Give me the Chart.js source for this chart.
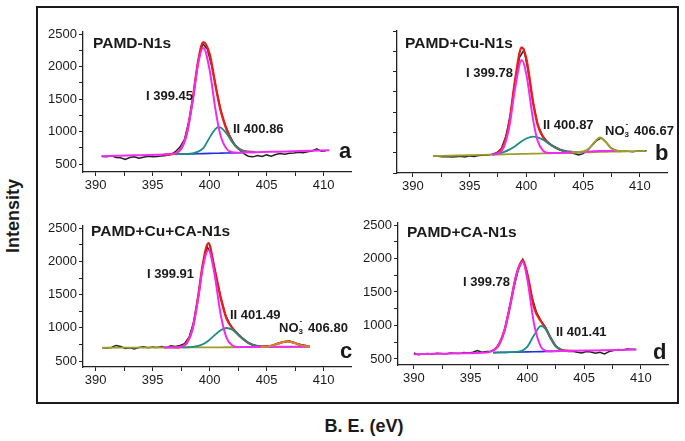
<!DOCTYPE html>
<html>
<head>
<meta charset="utf-8">
<script src="https://cdn.jsdelivr.net/npm/chart.js"></script>
<style>
  body { margin:0; width:685px; height:441px; background:#fff; position:relative; overflow:hidden;
         font-family:"Liberation Sans", Arial, sans-serif; color:#1a1a1a; }
  .frame { position:absolute; left:36px; top:6px; width:643px; height:398px; border:2px solid #1a1a1a; box-sizing:border-box; }
  canvas { position:absolute; }
  .t { position:absolute; font-weight:bold; white-space:nowrap; line-height:1; }
  .ttl { font-size:15.5px; }
  .pk { font-size:13px; }
  .let { font-size:22px; }
  .ax { font-size:18px; transform:translate(-50%,-50%); }
  .ion { display:inline-block; position:relative; width:6px; height:13px; vertical-align:top; }
  .ion span { position:absolute; font-size:8px; line-height:1; }
  .ion .sp { left:1px; top:-4px; }
  .ion .sb { left:0; top:7px; }
</style>
</head>
<body>
<div class="frame"></div>
<canvas id="ca"></canvas>
<canvas id="cb"></canvas>
<canvas id="cc"></canvas>
<canvas id="cd"></canvas>

<div class="t ttl" style="left:93px;top:34.5px">PAMD-N1s</div>
<div class="t pk" style="left:146px;top:88.5px">I 399.45</div>
<div class="t pk" style="left:233px;top:121.8px">II 400.86</div>
<div class="t let" style="left:339px;top:139.7px">a</div>

<div class="t ttl" style="left:405px;top:35px">PAMD+Cu-N1s</div>
<div class="t pk" style="left:466px;top:66.2px">I 399.78</div>
<div class="t pk" style="left:543px;top:117.5px">II 400.87</div>
<div class="t pk" style="left:605px;top:124.2px">NO<span class="ion"><span class="sp">-</span><span class="sb">3</span></span> 406.67</div>
<div class="t let" style="left:655px;top:142.1px">b</div>

<div class="t ttl" style="left:91px;top:223px">PAMD+Cu+CA-N1s</div>
<div class="t pk" style="left:147px;top:266.8px">I 399.91</div>
<div class="t pk" style="left:230px;top:307.8px">II 401.49</div>
<div class="t pk" style="left:279px;top:320.8px">NO<span class="ion"><span class="sp">-</span><span class="sb">3</span></span> 406.80</div>
<div class="t let" style="left:340px;top:340.1px">c</div>

<div class="t ttl" style="left:407px;top:224px">PAMD+CA-N1s</div>
<div class="t pk" style="left:463px;top:274.5px">I 399.78</div>
<div class="t pk" style="left:556px;top:325.2px">II 401.41</div>
<div class="t let" style="left:653px;top:341.4px">d</div>

<div class="t ax" style="left:13px;top:216px;transform:translate(-50%,-50%) rotate(-90deg)">Intensity</div>
<div class="t ax" style="left:364px;top:426px">B. E. (eV)</div>

<script>
// raw spectra are sampled every 0.4 eV from their start value
const rawStep = 0.4;

// a: PAMD-N1s
const aGrid  = [390.5, 392, 394, 396, 397, 397.5, 398, 398.5, 399, 399.45, 400, 400.5, 400.8, 401, 401.5, 402, 402.5, 403, 404, 406, 408, 410.5];
const aPeak1 = [620, 627, 636, 645, 664, 735, 970, 1461, 2050, 2290, 1950, 1355, 1059, 916, 731, 682, 675, 676, 681, 690, 699, 710];
const aPeak2 = [null, null, null, null, 649, 652, 655, 664, 690, 745, 906, 1038, 1066, 1057, 966, 836, 741, 696, 682, null, null, null];
const aBase  = [null, null, null, null, 649, 652, 654, 656, 658, 660, 663, 665, 666, 667, 670, 672, 674, 676, null, null, null, null];
const aFit   = [null, null, null, 645, 664, 735, 971, 1469, 2082, 2375, 2193, 1728, 1459, 1306, 1027, 846, 742, 696, 682, null, null, null];
const aRawStart = 390.6;
const aRaw = [615, 610, 625, 600, 595, 570, 600, 610, 590, 605, 620, 610, 615, 625, 630, 645, 690, 760, 880, 1170,
              1590, 2090, 2350, 2270, 2000, 1640, 1300, 1080, 920, 800, 725, 660, 620, 610, 630, 615, 640, 620, 645, 660,
              650, 665, 670, 680, 675, 690, 700, 735, 695, 705];

// b: PAMD+Cu-N1s
const bGrid  = [391.8, 394, 396, 397, 397.5, 398, 398.5, 399, 399.6, 400, 400.6, 401, 401.5, 402, 402.5, 403, 403.5, 404, 405, 405.5, 406, 406.5, 407, 407.5, 408, 409, 410.5];
const bBase  = [930, 945, 959, 966, 970, 973, 977, 980, 985, 987, 992, 994, 998, 1001, 1005, 1008, 1012, 1015, 1022, 1026, 1029, 1033, 1036, 1040, 1043, 1050, 1061];
const bPeak1 = [null, null, null, 968, 995, 1144, 1659, 2605, 3330, 2980, 1836, 1311, 1057, 1008, 1007, 1010, 1014, 1018, 1035, 1045, 1052, 1056, 1058, 1060, 1062, null, null];
const bPeak2 = [null, null, null, 975, 995, 1030, 1092, 1179, 1301, 1369, 1417, 1399, 1332, 1239, 1151, 1085, 1047, 1029, 1023, null, null, null, null, null, null, null, null];
const bNO3   = [null, null, null, null, null, null, null, null, null, null, null, null, null, null, null, null, null, 1025, 1045, 1110, 1275, 1395, 1280, 1120, 1065, 1058, null];
const bFit   = [null, null, null, 977, 1020, 1201, 1774, 2804, 3646, 3362, 2261, 1716, 1391, 1246, 1153, 1087, 1049, 1032, null, null, null, null, null, null, null, null, null];
const bRawStart = 391.8;
const bRaw = [935, 925, 915, 920, 905, 915, 925, 910, 935, 920, 945, 950, 955, 975, 1010, 1120, 1430, 1960, 2800, 3400,
              3580, 3000, 2260, 1720, 1450, 1300, 1200, 1140, 1080, 1050, 1020, 995, 960, 990, 1080, 1200, 1320, 1385, 1290, 1150,
              1080, 1045, 1065, 1050, 1040, 1060, 1055, 1065];

// c: PAMD+Cu+CA-N1s
const cGrid  = [390.6, 392, 394, 396, 397, 397.5, 398, 398.5, 399, 399.4, 399.9, 400.4, 401, 401.5, 402, 402.5, 403, 403.5, 404, 404.5, 405, 405.5, 406, 406.8, 407.5, 408, 408.8];
const cBase  = [700, 701, 702, 704, 704, 705, 705, 705, 706, 706, 706, 707, 707, 708, 708, 708, 709, 709, 709, 710, 710, 710, 711, 711, 712, 712, 713];
const cPeak1 = [null, null, null, 704, 705, 715, 770, 980, 1449, 1903, 2175, 1841, 1175, 845, 734, 711, 712, 712, 712, 713, 713, 713, 714, 714, 715, 715, 716];
const cPeak2 = [null, null, null, null, null, 705, 707, 712, 728, 753, 807, 883, 969, 998, 970, 900, 823, 764, 731, 717, 712, null, null, null, null, null, null];
const cNO3   = [null, null, null, null, null, null, null, null, null, null, null, null, null, null, null, null, null, null, null, 711, 717, 733, 763, 796, 770, 740, 717];
const cFit   = [null, null, null, null, 705, 715, 772, 987, 1471, 1950, 2276, 1917, 1437, 1135, 996, 903, 823, 764, 731, 718, 719, 733, 763, 796, 770, 740, 717];
const cRawStart = 390.6;
const cRaw = [700, 695, 705, 735, 720, 690, 700, 680, 705, 715, 700, 710, 705, 720, 700, 730, 720, 735, 760, 860,
              1080, 1470, 1950, 2220, 2100, 1760, 1440, 1190, 1050, 950, 885, 830, 775, 745, 725, 715, 725, 730, 755, 775,
              790, 800, 775, 755, 740, 725];

// d: PAMD+CA-N1s
const dGrid  = [390, 392, 394, 396, 397, 397.5, 398, 398.5, 399, 399.6, 400, 400.6, 401.2, 401.6, 402, 402.5, 403, 403.5, 404, 406, 408, 409.6];
const dPeak1 = [570, 577, 584, 593, 626, 715, 935, 1312, 1732, 1950, 1686, 1017, 681, 626, 615, 616, 618, 620, 621, 628, 635, 641];
const dPeak2 = [null, null, null, null, 595, 597, 599, 601, 604, 629, 684, 857, 992, 950, 829, 693, 634, 621, 620, null, null, null];
const dBase  = [null, null, null, null, 595, 597, 599, 601, 602, 605, 606, 608, 610, 612, 613, 615, 617, 619, 620, null, null, null];
const dFit   = [null, null, null, null, 626, 715, 935, 1312, 1734, 1974, 1764, 1266, 1063, 964, 831, 694, 635, 622, 621, null, null, null];
const dRawStart = 390.0;
const dRaw = [590, 565, 575, 580, 570, 585, 580, 575, 590, 585, 580, 595, 590, 600, 625, 600, 610, 615, 650, 750,
              930, 1240, 1560, 1830, 1985, 1770, 1430, 1200, 1070, 970, 830, 710, 650, 625, 610, 615, 600, 590, 610, 605,
              585, 600, 575, 610, 625, 640, 635, 650, 645, 640];

const FONT = '"Liberation Sans", Arial, sans-serif';
const C = { raw: '#222222', fit: '#e3201c', p1: '#f22af0', p2: '#1c8c84', blue: '#2430dc', olive: '#9e9c2c', orange: '#c98a2e' };

function pts(xs, ys) {
  return xs.map((x, i) => ({ x: x, y: ys[i] })).filter(p => p.y !== null);
}
function rawPts(start, ys) {
  return ys.map((y, i) => ({ x: Math.round((start + i * rawStep) * 100) / 100, y: y }));
}
function line(data, color, width, smooth) {
  return {
    data: data, borderColor: color, backgroundColor: color, borderWidth: width,
    pointRadius: 0, fill: false, tension: 0,
    cubicInterpolationMode: smooth ? 'monotone' : 'default'
  };
}

// canvas margins around the plot area: 50 left (axis + padding), 4 right, 14 top, 28 + 16 bottom
function makeChart(id, p) {
  const [l, t, r, b] = p.box;
  const cv = document.getElementById(id);
  const w = r - l + 54, h = b - t + 58;
  cv.width = w;
  cv.height = h;
  cv.style.width = w + 'px';
  cv.style.height = h + 'px';
  cv.style.left = (l - 50) + 'px';
  cv.style.top = (t - 14) + 'px';

  const tickFont = { family: FONT, size: 13 };
  new Chart(cv.getContext('2d'), {
    type: 'line',
    data: { datasets: p.sets },
    options: {
      responsive: false,
      maintainAspectRatio: false,
      animation: false,
      events: [],
      layout: { padding: { left: 4, top: 14, right: 4, bottom: 16 } },
      plugins: { legend: { display: false }, tooltip: { enabled: false } },
      scales: {
        x: {
          type: 'linear', min: p.xMin, max: p.xMax,
          border: { color: '#222', width: 1.3 },
          grid: { drawOnChartArea: false, tickLength: 4, color: '#222', lineWidth: 1 },
          ticks: {
            stepSize: 2.5, autoSkip: false, maxRotation: 0, padding: 2, includeBounds: false,
            color: '#1a1a1a', font: tickFont,
            callback: v => (v % 5 === 0 ? String(v) : '')
          },
          afterFit: s => { s.height = 28; s.paddingLeft = 0; s.paddingRight = 0; }
        },
        y: {
          type: 'linear', min: p.yMin, max: p.yMax,
          border: { color: '#222', width: 1.3 },
          grid: { drawOnChartArea: false, tickLength: 4, color: '#222', lineWidth: 1 },
          ticks: {
            stepSize: p.yStep, autoSkip: false, padding: 2, includeBounds: false,
            color: '#1a1a1a', font: tickFont,
            callback: v => (v % p.yMajor === 0 ? String(v) : '')
          },
          afterFit: s => { s.width = 46; s.paddingTop = 0; s.paddingBottom = 0; }
        }
      }
    }
  });
}

// first dataset is drawn on top
makeChart('ca', {
  box: [83, 32, 351, 172], xMin: 388.9, xMax: 412.4, yMin: 377, yMax: 2531, yStep: 250, yMajor: 500,
  sets: [
    line(pts(aGrid, aPeak1), C.p1, 2, true),
    line(pts(aGrid, aPeak2), C.p2, 1.8, true),
    line(pts(aGrid, aBase), C.blue, 1.6, false),
    line(pts(aGrid, aFit), C.fit, 2.4, true),
    line(rawPts(aRawStart, aRaw), C.raw, 1.5, false)
  ]
});

makeChart('cb', {
  box: [397, 31, 667, 173], xMin: 388.6, xMax: 412.4, yMin: 507, yMax: 4058, yStep: 500, yMajor: 1000,
  sets: [
    line(pts(bGrid, bNO3), C.olive, 2, true),
    line(pts(bGrid, bPeak1), C.p1, 2, true),
    line(pts(bGrid, bPeak2), C.p2, 1.8, true),
    line(pts(bGrid, bBase), C.olive, 1.8, false),
    line(pts(bGrid, bFit), C.fit, 2.4, true),
    line(rawPts(bRawStart, bRaw), C.raw, 1.5, false)
  ]
});

makeChart('cc', {
  box: [83, 226, 351, 367], xMin: 388.9, xMax: 412.4, yMin: 410, yMax: 2535, yStep: 250, yMajor: 500,
  sets: [
    line(pts(cGrid, cNO3), C.orange, 2, true),
    line(pts(cGrid, cPeak1), C.p1, 2, true),
    line(pts(cGrid, cPeak2), C.p2, 1.8, true),
    line(pts(cGrid, cBase), C.olive, 1.8, false),
    line(pts(cGrid, cFit), C.fit, 2.4, true),
    line(rawPts(cRawStart, cRaw), C.raw, 1.5, false)
  ]
});

makeChart('cd', {
  box: [398, 223, 668, 365], xMin: 388.6, xMax: 412.4, yMin: 410, yMax: 2530, yStep: 250, yMajor: 500,
  sets: [
    line(pts(dGrid, dPeak1), C.p1, 2, true),
    line(pts(dGrid, dPeak2), C.p2, 1.8, true),
    line(pts(dGrid, dBase), C.blue, 1.6, false),
    line(pts(dGrid, dFit), C.fit, 2.4, true),
    line(rawPts(dRawStart, dRaw), C.raw, 1.5, false)
  ]
});
</script>
</body>
</html>
